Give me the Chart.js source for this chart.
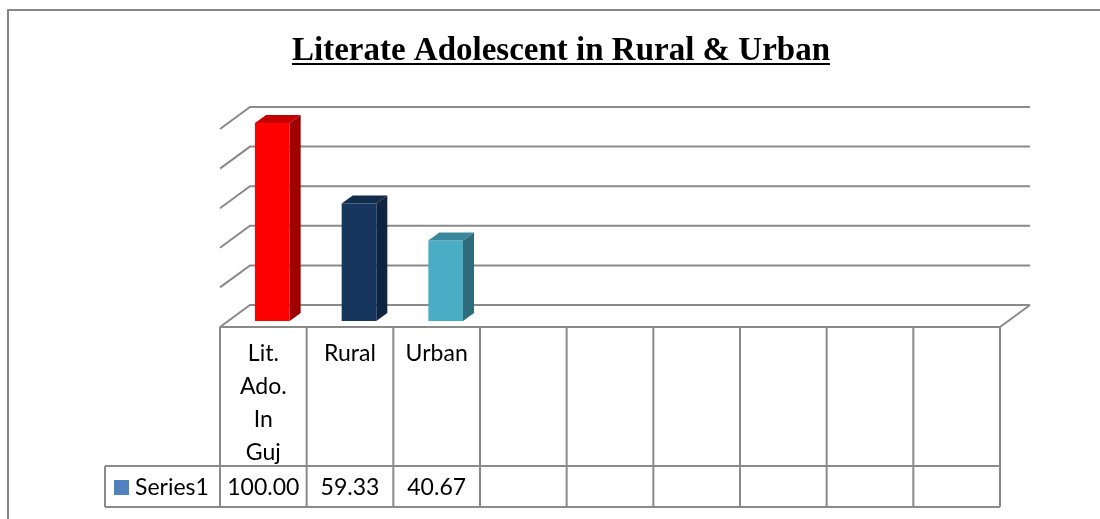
<!DOCTYPE html>
<html>
<head>
<meta charset="utf-8">
<script src="https://cdn.jsdelivr.net/npm/chart.js@4"></script>
<style>
  html, body { margin: 0; padding: 0; background: #fff; }
  #wrap { width: 1100px; height: 519px; position: relative; }
</style>
</head>
<body>
<div id="wrap"><canvas id="chart"></canvas></div>
<script>
// chart data
const chartTitle = 'Literate Adolescent in Rural & Urban';
const categories = [['Lit.', 'Ado.', 'In', 'Guj'], ['Rural'], ['Urban'], [''], [''], [''], [''], [''], ['']];
const seriesName = 'Series1';
const values = [100, 59.33, 40.67, null, null, null, null, null, null];
const valueLabels = ['100.00', '59.33', '40.67', '', '', '', '', '', ''];
const gridValues = [0, 20, 40, 60, 80, 100];

// bar colours: front / top / side
const frontColors = ['#ff0000', '#17365d', '#4bacc6'];
const topColors = ['#c40000', '#122c4c', '#3a889c'];
const sideColors = ['#a00000', '#0f2440', '#2f6c7b'];

const lineColor = '#8a8a8a';
const tableFont = '23px Lato';
const titleFont = 'bold 33px "Liberation Serif"';

// 3d offsets (front plane, back wall, bar depth)
const FX = -9, FY = 6;
const BX = 21, BY = -16;
const DX = 11, DY = -8;

const frame3d = {
    id: 'frame3d',
    beforeDatasetsDraw(chart) {
        const ctx = chart.ctx;
        const y = chart.scales.y;
        const area = chart.chartArea;
        ctx.save();
        ctx.strokeStyle = lineColor;
        ctx.lineWidth = 2;
        // back wall grid lines and left wall diagonals
        gridValues.forEach(v => {
            const py = y.getPixelForValue(v);
            ctx.beginPath();
            ctx.moveTo(area.left + FX, py + FY);
            ctx.lineTo(area.left + BX, py + BY);
            ctx.lineTo(area.right + BX, py + BY);
            ctx.stroke();
        });
        // floor right edge
        const p0 = y.getPixelForValue(0);
        ctx.beginPath();
        ctx.moveTo(area.right + FX, p0 + FY);
        ctx.lineTo(area.right + BX, p0 + BY);
        ctx.stroke();
        ctx.restore();
    },
    afterDatasetsDraw(chart) {
        const ctx = chart.ctx;
        const meta = chart.getDatasetMeta(0);
        ctx.save();
        meta.data.forEach((bar, i) => {
            if (values[i] == null) return;
            const p = bar.getProps(['x', 'y', 'base', 'width'], true);
            const l = p.x - p.width / 2, r = p.x + p.width / 2;
            // top face
            ctx.fillStyle = topColors[i];
            ctx.beginPath();
            ctx.moveTo(l, p.y);
            ctx.lineTo(l + DX, p.y + DY);
            ctx.lineTo(r + DX, p.y + DY);
            ctx.lineTo(r, p.y);
            ctx.closePath();
            ctx.fill();
            // side face
            ctx.fillStyle = sideColors[i];
            ctx.beginPath();
            ctx.moveTo(r, p.y);
            ctx.lineTo(r + DX, p.y + DY);
            ctx.lineTo(r + DX, p.base + DY);
            ctx.lineTo(r, p.base);
            ctx.closePath();
            ctx.fill();
        });
        ctx.restore();
    },
    afterDraw(chart) {
        const ctx = chart.ctx;
        const x = chart.scales.x;
        const y = chart.scales.y;
        const area = chart.chartArea;
        const colW = (area.right - area.left) / categories.length;
        const top = y.getPixelForValue(0) + FY;
        const rowTop = top + 139;
        const rowBottom = rowTop + 41;
        const legendLeft = 105;
        ctx.save();

        // outer border
        ctx.strokeStyle = '#878787';
        ctx.lineWidth = 2;
        ctx.beginPath();
        ctx.moveTo(8, chart.height);
        ctx.lineTo(8, 10);
        ctx.lineTo(chart.width, 10);
        ctx.stroke();

        // title with underline
        const cx = 561;
        ctx.font = titleFont;
        ctx.fillStyle = '#000';
        ctx.textAlign = 'center';
        ctx.textBaseline = 'alphabetic';
        ctx.fillText(chartTitle, cx, 60);
        const tw = ctx.measureText(chartTitle).width;
        ctx.strokeStyle = '#000';
        ctx.lineWidth = 2;
        ctx.beginPath();
        ctx.moveTo(cx - tw / 2, 64);
        ctx.lineTo(cx + tw / 2, 64);
        ctx.stroke();

        // data table
        ctx.strokeStyle = lineColor;
        ctx.lineWidth = 2;
        ctx.beginPath();
        ctx.moveTo(area.left + FX, top);
        ctx.lineTo(area.right + FX, top);
        ctx.moveTo(legendLeft, rowTop);
        ctx.lineTo(area.right + FX, rowTop);
        ctx.moveTo(legendLeft, rowBottom);
        ctx.lineTo(area.right + FX, rowBottom);
        ctx.moveTo(legendLeft, rowTop);
        ctx.lineTo(legendLeft, rowBottom);
        for (let i = 0; i <= categories.length; i++) {
            const cxl = x.getPixelForValue(i) - colW / 2 + FX;
            ctx.moveTo(cxl, top);
            ctx.lineTo(cxl, rowBottom);
        }
        ctx.stroke();

        ctx.fillStyle = '#000';
        ctx.font = tableFont;
        ctx.textAlign = 'center';
        ctx.textBaseline = 'middle';
        categories.forEach((lines, i) => {
            const c = x.getPixelForValue(i) + FX;
            lines.forEach((t, j) => ctx.fillText(t, c, top + 27 + j * 33));
            ctx.fillText(valueLabels[i], c, (rowTop + rowBottom) / 2 + 1);
        });

        // legend key
        ctx.fillStyle = '#4f81bd';
        ctx.fillRect(114, rowTop + 14, 15, 15);
        ctx.fillStyle = '#000';
        ctx.textAlign = 'left';
        ctx.fillText(seriesName, 135, (rowTop + rowBottom) / 2 + 1);
        ctx.restore();
    }
};

new Chart(document.getElementById('chart'), {
    type: 'bar',
    data: {
        labels: categories,
        datasets: [{
            label: seriesName,
            data: values,
            backgroundColor: frontColors,
            borderWidth: 0,
            categoryPercentage: 1,
            barPercentage: 0.4
        }]
    },
    options: {
        responsive: true,
        maintainAspectRatio: false,
        animation: false,
        layout: { padding: { left: 229, right: 91, top: 123, bottom: 198 } },
        plugins: {
            legend: { display: false },
            tooltip: { enabled: false },
            title: { display: false }
        },
        scales: {
            x: { display: false },
            y: { display: false, min: 0, max: 100 }
        }
    },
    plugins: [frame3d]
});
</script>
</body>
</html>
